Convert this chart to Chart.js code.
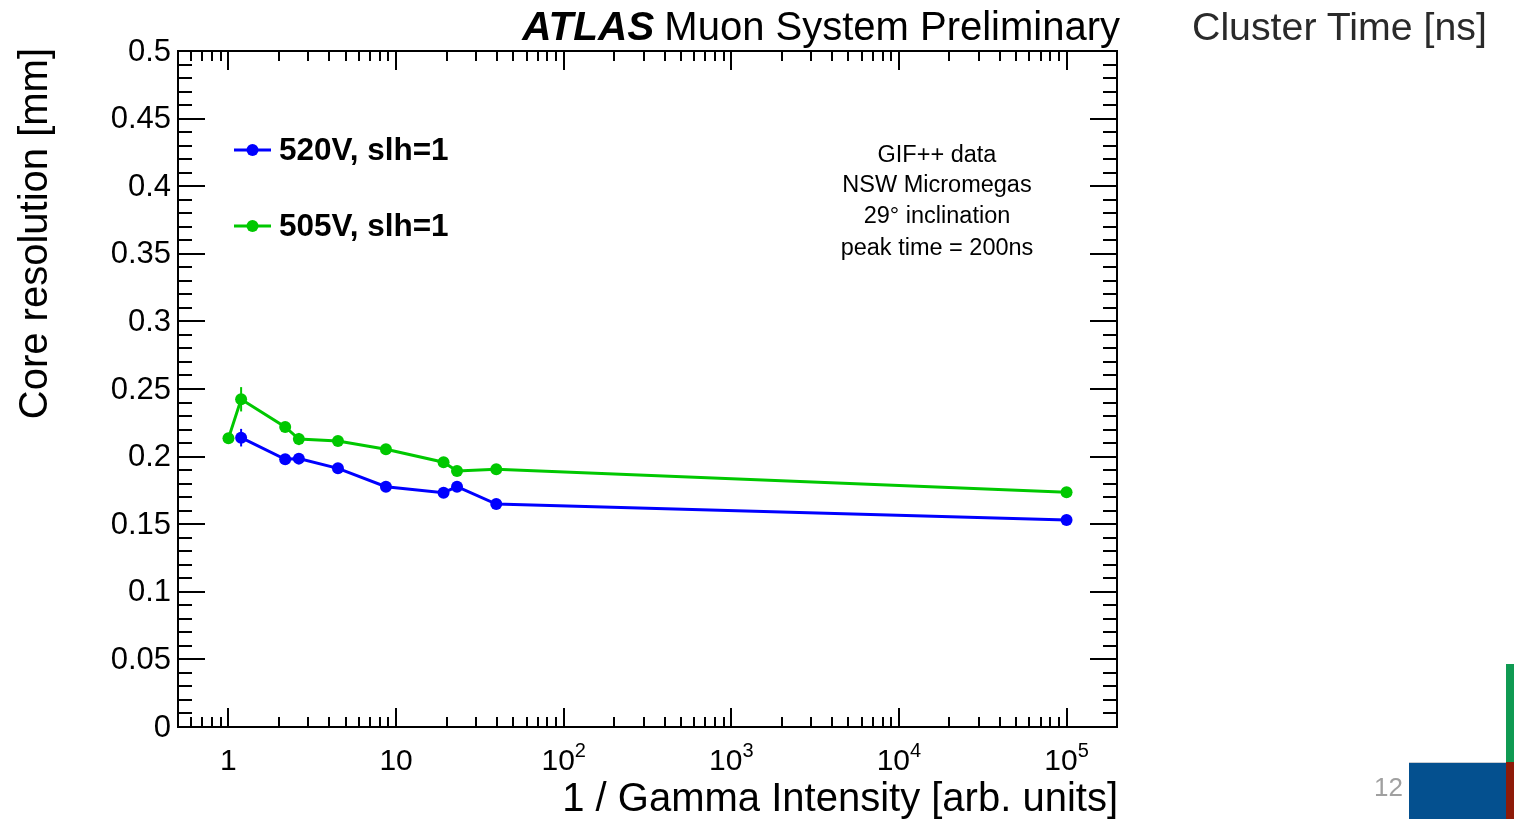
<!DOCTYPE html>
<html>
<head>
<meta charset="utf-8">
<title>Core resolution vs 1 / Gamma Intensity</title>
<script src="https://cdn.jsdelivr.net/npm/chart.js@4.4.1/dist/chart.umd.min.js"></script>
<style>
  html, body { margin: 0; padding: 0; background: #fff; overflow: hidden; }
  #wrap { position: relative; width: 1514px; height: 819px; }
  #c { position: absolute; left: 0; top: 0; }
  .slide { position: absolute; font-family: "Liberation Sans", Arial, Helvetica, sans-serif; white-space: nowrap; }
  #heading { left: 1192px; top: 3px; font-size: 39.3px; color: #2a2a2a; line-height: 46px; }
  #pagenum { left: 1374px; top: 771px; font-size: 26px; color: #a0a0a0; line-height: 32px; }
  #blockBlue { position: absolute; left: 1409px; top: 762px; width: 97px; height: 57px; background: #04508f; border-top: 1px solid #c8ccd2; box-sizing: border-box; }
  #barGreen { position: absolute; left: 1506px; top: 664px; width: 8px; height: 98px; background: #0f9a52; }
  #barRed { position: absolute; left: 1506px; top: 762px; width: 8px; height: 57px; background: #8e1a08; }
</style>
</head>
<body>
<div id="wrap">
  <canvas id="c" width="1514" height="819"></canvas>
  <div class="slide" id="heading">Cluster Time [ns]</div>
  <div class="slide" id="pagenum">12</div>
  <div id="blockBlue"></div>
  <div id="barGreen"></div>
  <div id="barRed"></div>
</div>
<script>
// 520 V, slh=1
const gamma520   = [1.19, 2.18, 2.63, 4.5, 8.7, 19.2, 23.1, 39.6, 1e5];
const coreRes520 = [0.2140, 0.1980, 0.1985, 0.1913, 0.1777, 0.1733, 0.1777, 0.1649, 0.1531];
const coreErr520 = [0.0065, 0.003, 0.003, 0.003, 0.003, 0.003, 0.003, 0.003, 0.003];

// 505 V, slh=1
const gamma505   = [1, 1.19, 2.18, 2.63, 4.5, 8.7, 19.2, 23.1, 39.6, 1e5];
const coreRes505 = [0.2135, 0.2424, 0.2219, 0.2130, 0.2115, 0.2054, 0.1958, 0.1893, 0.1906, 0.1736];
const coreErr505 = [0.003, 0.0090, 0.003, 0.0045, 0.003, 0.003, 0.003, 0.003, 0.003, 0.003];

const seriesLabels = ['520V, slh=1', '505V, slh=1'];
const seriesColors = ['#0000ff', '#00c800'];

// axis ticks
const yTickValues = [0, 0.05, 0.1, 0.15, 0.2, 0.25, 0.3, 0.35, 0.4, 0.45, 0.5];
const yTickLabels = ['0', '0.05', '0.1', '0.15', '0.2', '0.25', '0.3', '0.35', '0.4', '0.45', '0.5'];
const xTickValues = [1, 10, 100, 1000, 10000, 100000];
const xTickBase   = ['1', '10', '10', '10', '10', '10'];
const xTickExp    = ['', '', '2', '3', '4', '5'];

const infoLines = ['GIF++ data', 'NSW Micromegas', '29\u00b0 inclination', 'peak time = 200ns'];

const FONT = '"Liberation Sans", Arial, Helvetica, sans-serif';

function toPoints(xs, ys) { return xs.map((x, i) => ({ x: x, y: ys[i] })); }

// frame, ticks, labels, legend and error bars in ROOT style
const rootStyle = {
  id: 'rootStyle',
  afterDatasetsDraw(chart) {
    const ctx = chart.ctx;
    const xs = chart.scales.x, ys = chart.scales.y;
    const errs = [coreErr520, coreErr505];
    const xsets = [gamma520, gamma505];
    const ysets = [coreRes520, coreRes505];
    ctx.save();
    ctx.lineWidth = 2;
    for (let s = 0; s < 2; s++) {
      ctx.strokeStyle = seriesColors[s];
      for (let i = 0; i < xsets[s].length; i++) {
        const px = xs.getPixelForValue(xsets[s][i]);
        ctx.beginPath();
        ctx.moveTo(px, ys.getPixelForValue(ysets[s][i] - errs[s][i]));
        ctx.lineTo(px, ys.getPixelForValue(ysets[s][i] + errs[s][i]));
        ctx.stroke();
      }
    }
    ctx.restore();
  },
  afterDraw(chart) {
    const ctx = chart.ctx;
    const a = chart.chartArea;
    const xs = chart.scales.x, ys = chart.scales.y;
    ctx.save();
    ctx.strokeStyle = '#000';
    ctx.fillStyle = '#000';
    ctx.lineWidth = 2;

    // frame
    ctx.strokeRect(a.left, a.top, a.right - a.left, a.bottom - a.top);

    // y ticks (major every 0.05, minor every 0.01), both sides
    ctx.beginPath();
    for (let k = 0; k <= 50; k++) {
      const v = k * 0.01;
      const py = Math.round(ys.getPixelForValue(v));
      const len = (k % 5 === 0) ? 27 : 14;
      ctx.moveTo(a.left, py); ctx.lineTo(a.left + len, py);
      ctx.moveTo(a.right, py); ctx.lineTo(a.right - len, py);
    }
    // x ticks (log), bottom and top
    const xmin = xs.min, xmax = xs.max;
    for (let e = -1; e <= 5; e++) {
      for (let m = 1; m <= 9; m++) {
        const v = m * Math.pow(10, e);
        if (v <= xmin * 1.0001 || v >= xmax * 0.9999) continue;
        const px = Math.round(xs.getPixelForValue(v));
        const len = (m === 1) ? 19 : 10;
        ctx.moveTo(px, a.bottom); ctx.lineTo(px, a.bottom - len);
        ctx.moveTo(px, a.top); ctx.lineTo(px, a.top + len);
      }
    }
    ctx.stroke();

    // y tick labels
    ctx.font = '31px ' + FONT;
    ctx.textAlign = 'right';
    ctx.textBaseline = 'middle';
    yTickValues.forEach((v, i) => {
      ctx.fillText(yTickLabels[i], a.left - 7, ys.getPixelForValue(v) + 1);
    });

    // x tick labels with exponents
    ctx.textBaseline = 'alphabetic';
    ctx.textAlign = 'left';
    xTickValues.forEach((v, i) => {
      const px = xs.getPixelForValue(v);
      ctx.font = '30px ' + FONT;
      const wb = ctx.measureText(xTickBase[i]).width;
      ctx.font = '20px ' + FONT;
      const we = xTickExp[i] ? ctx.measureText(xTickExp[i]).width : 0;
      const x0 = px - (wb + we) / 2;
      ctx.font = '30px ' + FONT;
      ctx.fillText(xTickBase[i], x0, 770);
      if (xTickExp[i]) {
        ctx.font = '20px ' + FONT;
        ctx.fillText(xTickExp[i], x0 + wb, 757);
      }
    });

    // axis titles
    ctx.font = '40px ' + FONT;
    ctx.textAlign = 'right';
    ctx.fillText('1 / Gamma Intensity [arb. units]', a.right + 1, 811);
    ctx.save();
    ctx.translate(47, a.top - 3);
    ctx.rotate(-Math.PI / 2);
    ctx.textAlign = 'right';
    ctx.fillText('Core resolution [mm]', 0, 0);
    ctx.restore();

    // title
    ctx.font = '40px ' + FONT;
    ctx.textAlign = 'right';
    ctx.fillText('Muon System Preliminary', 1120, 40);
    const wMuon = ctx.measureText('Muon System Preliminary').width;
    ctx.font = 'italic bold 40.5px ' + FONT;
    ctx.fillText('ATLAS', 1120 - wMuon - 10, 40);

    // info text
    ctx.font = '23.5px ' + FONT;
    ctx.textAlign = 'center';
    const infoBase = [162, 192, 223, 255];
    infoLines.forEach((t, i) => ctx.fillText(t, 937, infoBase[i]));

    // legend
    const legY = [150, 226];
    ctx.font = 'bold 31.5px ' + FONT;
    ctx.textAlign = 'left';
    ctx.textBaseline = 'middle';
    for (let s = 0; s < 2; s++) {
      ctx.strokeStyle = seriesColors[s];
      ctx.fillStyle = seriesColors[s];
      ctx.lineWidth = 3;
      ctx.beginPath();
      ctx.moveTo(234, legY[s]); ctx.lineTo(271, legY[s]);
      ctx.stroke();
      ctx.beginPath();
      ctx.arc(252.5, legY[s], 6, 0, Math.PI * 2);
      ctx.fill();
      ctx.fillStyle = '#000';
      ctx.fillText(seriesLabels[s], 279, legY[s] + 1);
    }
    ctx.restore();
  }
};

new Chart(document.getElementById('c'), {
  type: 'line',
  data: {
    datasets: [
      {
        label: seriesLabels[1],
        data: toPoints(gamma505, coreRes505),
        borderColor: seriesColors[1],
        backgroundColor: seriesColors[1],
        pointBackgroundColor: seriesColors[1],
        borderWidth: 3,
        pointRadius: 6,
        pointBorderWidth: 0,
        tension: 0,
        order: 0
      },
      {
        label: seriesLabels[0],
        data: toPoints(gamma520, coreRes520),
        borderColor: seriesColors[0],
        backgroundColor: seriesColors[0],
        pointBackgroundColor: seriesColors[0],
        borderWidth: 3,
        pointRadius: 6,
        pointBorderWidth: 0,
        tension: 0,
        order: 1
      }
    ]
  },
  options: {
    responsive: false,
    animation: false,
    devicePixelRatio: 1,
    events: [],
    layout: { padding: { left: 178, right: 397, top: 51, bottom: 92 } },
    plugins: { legend: { display: false }, tooltip: { enabled: false } },
    scales: {
      x: { type: 'logarithmic', min: 0.5, max: 2e5, display: false },
      y: { type: 'linear', min: 0, max: 0.5, display: false }
    }
  },
  plugins: [rootStyle]
});
</script>
</body>
</html>
